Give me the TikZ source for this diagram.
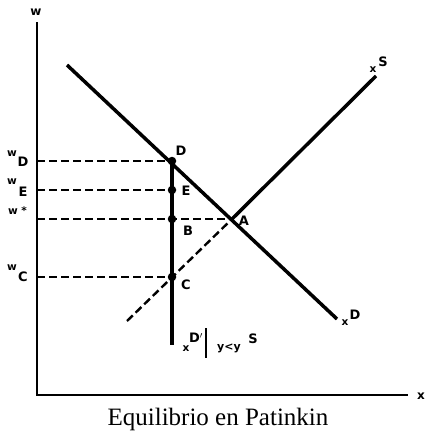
\documentclass[tikz,border=0pt]{standalone}
\usepackage{fontspec}
\setmainfont{Liberation Serif}
\newfontfamily\lab{DejaVu Sans}
\begin{document}
\begin{tikzpicture}[x=1pt,y=-1pt,
  curve/.style={line width=3.5pt},
  axis/.style={line width=2.2pt},
  dashln/.style={line width=2.4pt, dash pattern=on 8pt off 4pt},
  dot/.style={circle, fill=black, inner sep=0pt, minimum size=8.5pt},
  lbl/.style={inner sep=0pt, font=\lab\bfseries\fontsize{13}{13}\selectfont},
  sml/.style={inner sep=0pt, font=\lab\bfseries\fontsize{10.5}{10.5}\selectfont}]
\useasboundingbox (0,0) rectangle (425,439);
% axes
\coordinate (O) at (37,395);
\coordinate (Ytop) at (37,22);
\coordinate (Xend) at (408,395);
\draw[axis] (Ytop) -- (O) -- (Xend);
\node[sml, font=\lab\bfseries\fontsize{12}{12}\selectfont] (wlab) at (36,12) {w};
\node[sml, font=\lab\bfseries\fontsize{12}{12}\selectfont] (xlab) at (421,396) {x};
% key points
\coordinate (A) at (232,219);
\node[dot] (D) at (172,161) {};
\node[dot] (E) at (172,190) {};
\node[dot] (B) at (172,219) {};
\node[dot] (C) at (172,277) {};
% demand
\coordinate (Dstart) at (67,65);
\coordinate (Dend) at (337,319);
\draw[curve] (Dstart) -- (Dend);
% supply
\coordinate (Sstart) at (127,321);
\coordinate (Send) at (376,76);
\draw[dashln] (Sstart) -- (A);
\draw[curve] (A) -- (Send);
% vertical xD'
\coordinate (Vbot) at (172,345);
\draw[curve] (D.center) -- (Vbot);
% dashed wage lines
\coordinate (yD) at (37,161);
\coordinate (yE) at (37,190);
\coordinate (yS) at (37,219);
\coordinate (yC) at (37,277);
\draw[dashln] (yD) -- (D.center);
\draw[dashln] (yE) -- (E.center);
\draw[dashln] (yS) -- (A);
\draw[dashln] (yC) -- (C.center);
% point labels
\node[lbl] (lD) at (181,151) {D};
\node[lbl] (lE) at (186,191) {E};
\node[lbl] (lB) at (188,231) {B};
\node[lbl] (lC) at (186,285) {C};
\node[lbl] (lA) at (244,221) {A};
% wage labels
\node[sml] (wD1) at (12,154) {w};
\node[lbl] (wD2) at (23,162) {D};
\node[sml] (wE1) at (12,182) {w};
\node[lbl] (wE2) at (23,192) {E};
\node[sml] (ws1) at (13,212) {w};
\node[sml] (ws2) at (24,211) {*};
\node[sml] (wC1) at (12,268) {w};
\node[lbl] (wC2) at (23,277) {C};
% curve labels
\node[sml] (xd1) at (345,323) {x};
\node[lbl] (xd2) at (355,315) {D};
\node[sml] (xs1) at (373,70) {x};
\node[lbl] (xs2) at (383,62) {S};
\node[sml] (xv1) at (186,349) {x};
\node[lbl] (xv2) at (196,338) {D$'$};
\coordinate (bartop) at (206,328);
\coordinate (barbot) at (206,358);
\draw[line width=2.2pt] (bartop) -- (barbot);
\node[sml, font=\lab\bfseries\fontsize{11}{11}\selectfont] (yy) at (229,348) {y<y};
\node[lbl] (ys) at (253,339) {S};
% caption
\node[inner sep=0pt, font=\fontsize{25}{25}\selectfont] (cap) at (218,419) {Equilibrio en Patinkin};
\end{tikzpicture}
\end{document}
